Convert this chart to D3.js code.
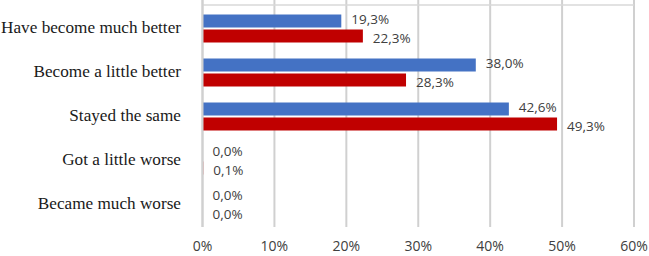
<!DOCTYPE html>
<html><head><meta charset="utf-8">
<script src="https://cdn.jsdelivr.net/npm/d3@7"></script>
<style>body{margin:0;background:#fff}svg{display:block}</style>
</head><body>
<script>
const categories = ["Have become much better","Become a little better","Stayed the same","Got a little worse","Became much worse"];
const seriesBlue = [19.3, 38.0, 42.6, 0.0, 0.0];
const seriesRed = [22.3, 28.3, 49.3, 0.1, 0.0];
const tickValues = [0,10,20,30,40,50,60];

const W=649,H=256;
const svg=d3.select("body").append("svg").attr("width",W).attr("height",H);
const x=d3.scaleLinear().domain([0,60]).range([202.5,634]);
const y=d3.scaleBand().domain(categories).range([7,227]);
const fmt=v=>v.toFixed(1).replace(".",",")+"%";

// gridlines
svg.append("g").selectAll("line").data(tickValues).join("line")
 .attr("x1",d=>x(d)).attr("x2",d=>x(d)).attr("y1",0).attr("y2",227)
 .attr("stroke","#d0d0d0").attr("stroke-width",2);
svg.append("line").attr("x1",x(0)).attr("x2",x(60)).attr("y1",5).attr("y2",5).attr("stroke","#d9d9d9").attr("stroke-width",1.5);

const bh=13;
const series=[{vals:seriesBlue,color:"#4472C4",off:-14.5,loff:-1.5},{vals:seriesRed,color:"#C00000",off:0.5,loff:2}];
series.forEach(s=>{
 const g=svg.append("g");
 g.selectAll("rect").data(categories).join("rect")
  .attr("x",x(0)).attr("y",(d)=>y(d)+y.bandwidth()/2+s.off)
  .attr("width",(d,i)=>x(s.vals[i])-x(0)).attr("height",bh).attr("fill",s.color);
 g.selectAll("text").data(categories).join("text")
  .attr("x",(d,i)=>x(s.vals[i])+10).attr("y",(d)=>y(d)+y.bandwidth()/2+s.off+bh/2+1+s.loff)
  .attr("dominant-baseline","middle")
  .attr("font-family","'Open Sans', sans-serif").attr("font-size",13.5).attr("fill","#404040")
  .text((d,i)=>fmt(s.vals[i]));
});
// zero axis line over bars
svg.append("line").attr("x1",x(0)).attr("x2",x(0)).attr("y1",0).attr("y2",227).attr("stroke","#d0d0d0").attr("stroke-width",2);

// category labels
svg.append("g").selectAll("text").data(categories).join("text")
 .attr("x",181).attr("y",d=>y(d)+y.bandwidth()/2)
 .attr("text-anchor","end").attr("dominant-baseline","middle")
 .attr("font-family","'Liberation Serif', serif").attr("font-size",17.2).attr("fill","#1a1a1a")
 .text(d=>d);

// x tick labels
svg.append("g").selectAll("text").data(tickValues).join("text")
 .attr("x",d=>x(d)).attr("y",247.5).attr("text-anchor","middle").attr("dominant-baseline","middle")
 .attr("font-family","'Open Sans', sans-serif").attr("font-size",14).attr("fill","#404040")
 .text(d=>d+"%");
</script>
</body></html>
